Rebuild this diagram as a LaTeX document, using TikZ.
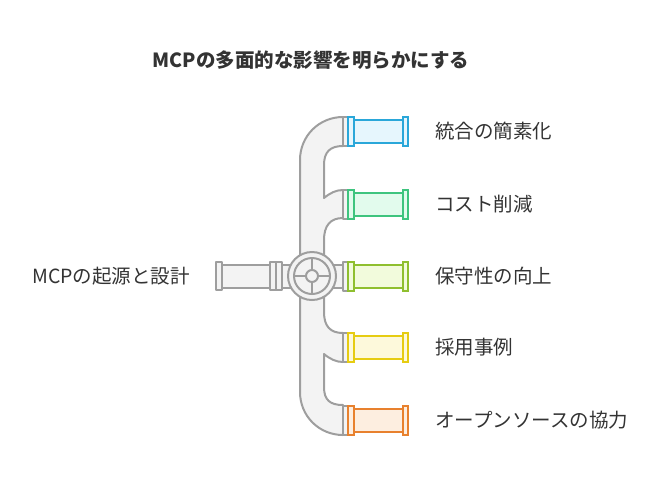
\documentclass[tikz,border=0pt]{standalone}
\usepackage{fontspec}
\setmainfont{Noto Sans CJK JP}
\begin{document}
\begin{tikzpicture}[x=1pt,y=-1pt,
  pipe/.style={fill=pf,draw=pg,line width=2pt,line join=round},
  lbl/.style={font=\fontsize{19.5}{22}\selectfont,text=txt,inner sep=0pt}]
\definecolor{pf}{HTML}{F3F3F3}\definecolor{pg}{HTML}{9E9E9E}\definecolor{txt}{HTML}{333333}
\useasboundingbox (0,0) rectangle (660,483);
\node[font=\fontsize{19.5}{22}\selectfont\bfseries,text=txt] (title) at (311,60) {MCPの多面的な影響を明らかにする};
% main manifold
\path[pipe] (343,117) -- (343,146) .. controls (330,146) and (324,152) .. (324,165) -- (324,198)
 .. controls (330,193) and (336,190) .. (343,190) -- (343,218) .. controls (330,218) and (324,226) .. (324,240)
 -- (324,312) .. controls (324,326) and (330,333) .. (343,333) -- (343,362)
 .. controls (336,362) and (330,359) .. (324,354) -- (324,387) .. controls (324,400) and (330,405) .. (343,405)
 -- (343,435) .. controls (319,435) and (300,416) .. (300,392) -- (300,160) .. controls (300,136) and (319,117) .. (343,117) -- cycle;
% left pipe
\draw[pipe] (222,265) rectangle (270,288);
\draw[pipe] (216,262) rectangle (222,290);
\draw[pipe] (270,262) rectangle (276,290);
\draw[pipe] (276,262) rectangle (282,290);
\draw[pipe] (282,265) rectangle (292,288);
\draw[pipe] (330,265) rectangle (343,288);
% valve
\node[pipe,circle,minimum size=48pt,inner sep=0pt] (valve) at (312,276) {};
\draw[pipe] (valve.center) circle (18);
\draw[pg,line width=2pt] (294,276) -- (330,276) (312,258) -- (312,294);
\draw[pipe] (valve.center) circle (6);
% branches
\foreach \y/\c/\f/\name in {131/2AA7D9/E6F6FD/b1,204/3EC47E/E2FBED/b2,276/8FBF2F/F2FBDC/b3,347/E6CC12/FDF9DB/b4,420/E8812E/FDEEE0/b5}{
  \definecolor{cc}{HTML}{\c}\definecolor{ff}{HTML}{\f}
  \draw[pipe] (343,\y-14.5) rectangle (349,\y+14.5);
  \draw[fill=ff,draw=cc,line width=2pt] (354,\y-11.5) rectangle (403,\y+11.5);
  \draw[fill=ff,draw=cc,line width=2pt] (348,\y-14.5) rectangle (354,\y+14.5);
  \draw[fill=ff,draw=cc,line width=2pt] (403,\y-14.5) rectangle (408,\y+14.5);
  \coordinate (\name) at (435,\y);
}
\node[lbl,anchor=west] (l1) at (b1) {統合の簡素化};
\node[lbl,anchor=west] (l2) at (b2) {コスト削減};
\node[lbl,anchor=west] (l3) at (b3) {保守性の向上};
\node[lbl,anchor=west] (l4) at (b4) {採用事例};
\node[lbl,anchor=west] (l5) at (b5) {オープンソースの協力};
\node[lbl,anchor=east] (src) at (190,276) {MCPの起源と設計};
\end{tikzpicture}
\end{document}
